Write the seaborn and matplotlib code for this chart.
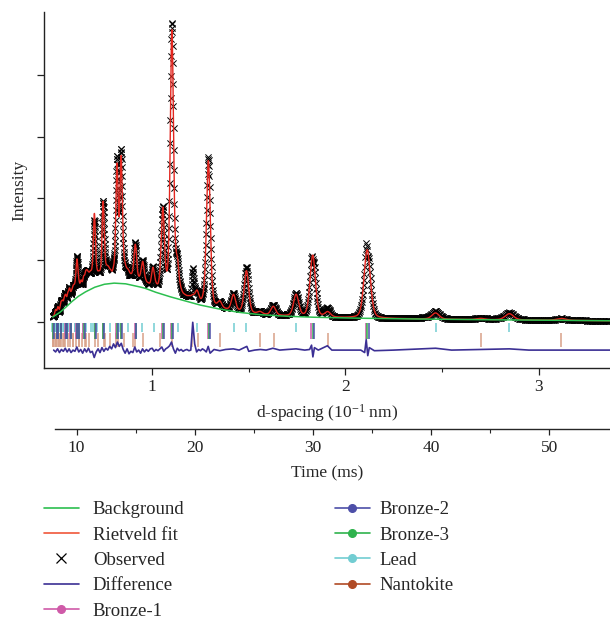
import numpy as np
import matplotlib
matplotlib.use("Agg")
import matplotlib.pyplot as plt
from matplotlib.lines import Line2D
from matplotlib.ticker import FixedLocator
import seaborn as sns

# background knots (d-spacing in 10^-1 nm, intensity in arbitrary units)
bg_d = [0.485, 0.52, 0.55, 0.58, 0.615, 0.65, 0.70, 0.75, 0.80, 0.86, 0.92, 0.96,
        1.01, 1.08, 1.16, 1.24, 1.33, 1.44, 1.55, 1.68, 1.80, 2.00, 2.20, 2.60, 3.00, 3.37]
bg_i = [0.08, 0.15, 0.23, 0.32, 0.41, 0.48, 0.56, 0.61, 0.63, 0.62, 0.58, 0.55,
        0.49, 0.42, 0.35, 0.28, 0.22, 0.16, 0.12, 0.095, 0.08, 0.065, 0.055, 0.04, 0.03, 0.02]

# fitted peaks: position and height above background
peak_d = [0.500, 0.512, 0.527, 0.535, 0.545, 0.552, 0.563, 0.572, 0.582, 0.590,
          0.597, 0.605, 0.611, 0.620, 0.632, 0.645, 0.655, 0.660, 0.665, 0.672,
          0.680, 0.686, 0.692, 0.701, 0.713, 0.722, 0.730, 0.746, 0.756, 0.765,
          0.774, 0.785, 0.800, 0.818, 0.839, 0.850, 0.856, 0.863, 0.873, 0.880,
          0.890, 0.900, 0.913, 0.930, 0.940, 0.951, 0.965, 0.980, 1.004, 1.020,
          1.040, 1.055, 1.070, 1.080, 1.102, 1.115, 1.130, 1.150, 1.170, 1.190,
          1.210, 1.232, 1.270, 1.291, 1.350, 1.421, 1.488, 1.558, 1.627, 1.745,
          1.831, 1.909, 2.113, 2.467, 2.700, 2.849, 3.118]
peak_h = [0.08, 0.10, 0.12, 0.12, 0.12, 0.15, 0.15, 0.20, 0.10, 0.15,
          0.12, 0.15, 0.50, 0.15, 0.18, 0.20, 0.18, 0.10, 0.15, 0.13,
          0.15, 0.08, 0.10, 1.12, 0.12, 0.10, 0.10, 1.28, 0.12, 0.14,
          0.15, 0.12, 0.12, 1.85, 1.95, 0.12, 0.10, 0.10, 0.10, 0.08,
          0.06, 0.08, 0.62, 0.05, 0.06, 0.36, 0.06, 0.05, 0.34, 0.05,
          0.06, 1.32, 0.06, 0.06, 4.25, 0.12, 0.48, 0.06, 0.04, 0.05,
          0.08, 0.18, 0.05, 2.35, 0.10, 0.26, 0.68, 0.04, 0.14, 0.35,
          1.00, 0.08, 1.11, 0.10, 0.02, 0.10, 0.03]
resolution = 0.018  # fwhm / d
eta = 0.3

# observed - calculated
diff_d = [0.49, 0.50, 0.51, 0.52, 0.53, 0.54, 0.55, 0.56, 0.57, 0.58,
          0.59, 0.60, 0.61, 0.62, 0.63, 0.64, 0.65, 0.66, 0.67, 0.68,
          0.69, 0.70, 0.71, 0.72, 0.73, 0.74, 0.75, 0.76, 0.77, 0.78,
          0.79, 0.80, 0.81, 0.82, 0.83, 0.84, 0.85, 0.86, 0.87, 0.88,
          0.89, 0.90, 0.91, 0.92, 0.93, 0.94, 0.95, 0.96, 0.97, 0.98,
          0.99, 1.00, 1.01, 1.02, 1.03, 1.04, 1.05, 1.06, 1.07, 1.08,
          1.09, 1.10, 1.11, 1.12, 1.13, 1.14, 1.15, 1.16, 1.17, 1.18,
          1.19, 1.20, 1.21, 1.22, 1.23, 1.24, 1.25, 1.26, 1.27, 1.28,
          1.29, 1.30, 1.32, 1.35, 1.38, 1.42, 1.45, 1.49, 1.50, 1.53,
          1.56, 1.59, 1.625, 1.66, 1.70, 1.745, 1.79, 1.815, 1.825, 1.832,
          1.840, 1.86, 1.907, 1.93, 2.00, 2.08, 2.100, 2.108, 2.116, 2.124,
          2.15, 2.25, 2.467, 2.55, 2.849, 2.95, 3.37]
diff_r = [0.00, -0.03, 0.02, -0.04, 0.01, -0.02, 0.03, -0.03, 0.02, -0.04,
          0.00, -0.02, 0.05, -0.03, 0.01, -0.05, 0.02, -0.03, 0.03, -0.04,
          -0.02, -0.12, -0.03, 0.02, -0.04, 0.04, -0.02, 0.03, 0.00, 0.06,
          0.02, 0.10, 0.04, 0.13, 0.06, 0.11, 0.01, -0.05, 0.02, -0.06,
          -0.02, -0.04, 0.05, -0.03, 0.00, -0.05, 0.02, -0.03, 0.01, -0.02,
          0.02, 0.03, -0.02, 0.01, -0.01, 0.02, 0.05, -0.02, 0.02, 0.04,
          0.07, 0.13, 0.02, -0.05, 0.03, -0.01, 0.01, -0.02, 0.00, 0.01,
          -0.01, 0.00, 0.45, 0.10, -0.03, 0.01, -0.01, 0.02, 0.00, -0.03,
          0.06, -0.05, 0.01, -0.01, 0.01, 0.02, 0.00, 0.06, -0.02, 0.00,
          0.01, 0.00, 0.03, 0.00, 0.01, 0.02, 0.00, 0.01, 0.08, -0.11,
          0.04, 0.00, 0.07, 0.00, 0.00, 0.00, -0.04, 0.17, -0.09, 0.04,
          -0.01, 0.00, 0.03, 0.00, 0.02, 0.00, 0.00]
diff_offset = -0.455

# reflection positions
bronze1_d = [2.1044, 1.8225, 1.2887, 1.0990, 1.0522, 0.9113, 0.8362, 0.8151, 0.7440, 0.7015,
             0.6443, 0.6161, 0.6075, 0.5763, 0.5559, 0.5495, 0.5261, 0.5104, 0.5055, 0.4871]
bronze2_d = [2.1218, 1.8375, 1.2993, 1.1081, 1.0609, 0.9188, 0.8431, 0.8218, 0.7502, 0.7072,
             0.6497, 0.6212, 0.6125, 0.5811, 0.5604, 0.5540, 0.5304, 0.5146, 0.5096, 0.4911]
bronze3_d = [2.1131, 1.8300, 1.2940, 1.1035, 1.0566, 0.9150, 0.8397, 0.8184, 0.7471, 0.7044,
             0.6470, 0.6186, 0.6100, 0.5787, 0.5581, 0.5518, 0.5283, 0.5125, 0.5075, 0.4891]
lead_d = [2.8492, 2.4675, 1.7448, 1.4880, 1.4246, 1.2338, 1.1322, 1.1035, 1.0074, 0.9497,
          0.8724, 0.8342, 0.8225, 0.7803, 0.7526, 0.7440, 0.7123, 0.6911, 0.6844, 0.6595,
          0.6425, 0.6169, 0.6029, 0.5985, 0.5816, 0.5698, 0.5661, 0.5517, 0.5417, 0.5384,
          0.5261, 0.5173, 0.5037, 0.4960, 0.4935, 0.4839]
nantokite_d = [3.1177, 2.7000, 1.9092, 1.6282, 1.5588, 1.3500, 1.2389, 1.2075, 1.1023, 1.0392,
               0.9546, 0.9128, 0.9000, 0.8538, 0.8235, 0.8141, 0.7794, 0.7562, 0.7489, 0.7216,
               0.7030, 0.6750, 0.6597, 0.6548, 0.6364, 0.6235, 0.6194, 0.6037, 0.5927, 0.5892,
               0.5756, 0.5661, 0.5511, 0.5427, 0.5400, 0.5295, 0.5220, 0.5196, 0.5103, 0.5036,
               0.5014, 0.4930, 0.4869, 0.4849]

# time of flight (ms) against d-spacing
tof_slope, tof_zero = 16.34, 0.06

sns.set_theme(style="ticks")
plt.rcParams["font.family"] = ["Liberation Serif", "DejaVu Serif"]
plt.rcParams["mathtext.fontset"] = "custom"
plt.rcParams["mathtext.rm"] = "Liberation Serif"
plt.rcParams["mathtext.it"] = "Liberation Serif:italic"

d = np.geomspace(0.485, 3.37, 1700)
bg = np.interp(d, bg_d, bg_i)
calc = bg.copy()
for p, h in zip(peak_d, peak_h):
    u = (d - p) / (resolution * p)
    calc += h * (eta / (1 + 4 * u ** 2) + (1 - eta) * np.exp(-4 * np.log(2) * u ** 2))
obs = calc + np.interp(d, diff_d, diff_r)
diff_line = np.array(diff_r) + diff_offset

fig = plt.figure(figsize=(6.1, 6.24), dpi=100)
ax = fig.add_axes([44 / 610, 1 - 368 / 624, 566 / 610, 356 / 624])

c_bg, c_fit, c_diff = "#2cbf4f", "#e3261f", "#3b2f94"
c_b1, c_b2, c_b3 = "#cf5aa8", "#4d4fa8", "#2fb34d"
c_lead, c_nan = "#72cdd2", "#b04a25"

# reflection markers
ax.vlines(nantokite_d, -0.40, -0.18, color="#d9a088", lw=1.1, zorder=1)
ax.vlines(lead_d, -0.17, -0.01, color=c_lead, lw=1.1, zorder=1)
ax.vlines(bronze1_d, -0.28, -0.01, color=c_b1, lw=1.1, zorder=1)
ax.vlines(bronze3_d, -0.28, -0.01, color=c_b3, lw=1.1, zorder=1)
ax.vlines(bronze2_d, -0.28, -0.01, color=c_b2, lw=1.1, zorder=1)

sns.scatterplot(x=d, y=obs, marker="x", s=20, color="black", linewidth=0.7,
                ax=ax, zorder=2, legend=False)
sns.lineplot(x=d, y=calc, color=c_fit, lw=1.0, ax=ax, zorder=3, sort=False, estimator=None)
sns.lineplot(x=d, y=bg, color=c_bg, lw=1.1, ax=ax, zorder=4, sort=False, estimator=None)
sns.lineplot(x=diff_d, y=diff_line, color=c_diff, lw=1.2, ax=ax, zorder=3,
             sort=False, estimator=None)

ax.set_xlim(0.44, 3.37)
ax.set_ylim(-0.745, 5.02)
ax.set_yticks([0, 1, 2, 3, 4])
ax.set_yticklabels([])
ax.set_xticks([1, 2, 3])
ax.xaxis.set_minor_locator(FixedLocator([1.5, 2.5]))
ax.tick_params(axis="both", which="major", direction="out", length=5, width=0.9,
               labelsize=12.5, colors="#222222", pad=3)
ax.tick_params(axis="x", which="minor", direction="out", length=3, width=0.8)
sns.despine(ax=ax)
for s in ("left", "bottom"):
    ax.spines[s].set_linewidth(1.0)
    ax.spines[s].set_color("#222222")
ax.set_xlabel("d-spacing (10$^{-1}$ nm)", fontsize=12.5, labelpad=5)
ax.set_ylabel("Intensity", fontsize=12.5, labelpad=4)

# time axis below
sec = ax.secondary_xaxis(-0.171, functions=(lambda x: x * tof_slope + tof_zero,
                                             lambda t: (t - tof_zero) / tof_slope))
sec.set_xticks([10, 20, 30, 40, 50])
sec.xaxis.set_minor_locator(FixedLocator([15, 25, 35, 45]))
sec.tick_params(axis="x", which="major", direction="out", length=4, width=0.9,
                labelsize=12.5, colors="#222222", pad=4)
sec.tick_params(axis="x", which="minor", direction="out", length=3, width=0.8)
sec.spines["bottom"].set_bounds(8.2, 60)
sec.spines["bottom"].set_linewidth(1.0)
sec.set_xlabel("Time (ms)", fontsize=12.5, labelpad=7)

left_handles = [
    Line2D([], [], color=c_bg, lw=1.2),
    Line2D([], [], color="#f0563a", lw=1.2),
    Line2D([], [], ls="none", marker="x", color="black", ms=7, mew=0.9),
    Line2D([], [], color=c_diff, lw=1.2),
    Line2D([], [], color=c_b1, lw=1.2, marker="o", ms=5.5),
]
left_labels = ["Background", "Rietveld fit", "Observed", "Difference", "Bronze-1"]
right_handles = [
    Line2D([], [], color=c_b2, lw=1.2, marker="o", ms=5.5),
    Line2D([], [], color=c_b3, lw=1.2, marker="o", ms=5.5),
    Line2D([], [], color=c_lead, lw=1.2, marker="o", ms=5.5),
    Line2D([], [], color=c_nan, lw=1.2, marker="o", ms=5.5),
]
right_labels = ["Bronze-2", "Bronze-3", "Lead", "Nantokite"]

leg_kw = dict(loc="upper left", frameon=False, fontsize=13.5, handlelength=1.85,
              labelspacing=0.44, borderpad=0, borderaxespad=0)
fig.legend(left_handles, left_labels, bbox_to_anchor=(44 / 610, 1 - 501 / 624),
           handletextpad=0.75, **leg_kw)
fig.legend(right_handles, right_labels, bbox_to_anchor=(335 / 610, 1 - 501 / 624),
           handletextpad=0.5, **leg_kw)

fig.savefig("out.png", dpi=100)
